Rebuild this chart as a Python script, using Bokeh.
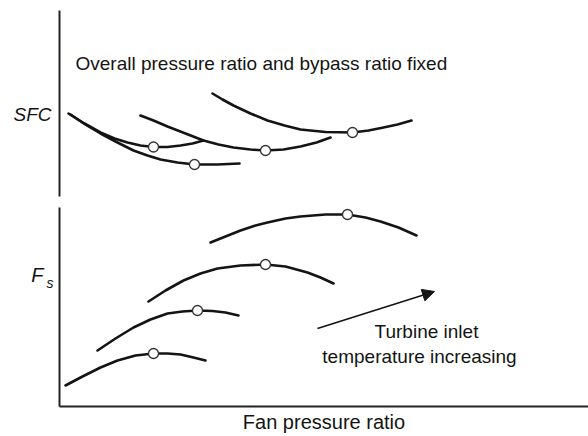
from bokeh.plotting import figure
from bokeh.models import Range1d, Label, Arrow, NormalHead, FixedTicker, LinearAxis
from bokeh.layouts import column
from bokeh.embed import file_html
from bokeh.resources import INLINE

# ---- data (arbitrary units; x = fan pressure ratio) ----
# SFC curves, one per turbine inlet temperature (T1 lowest ... T4 highest)
sfc1_x = [1.0, 2.6, 4.2, 5.6, 6.9, 8.2, 9.5, 10.9, 12.2, 13.4, 14.5]
sfc1_y = [8.3, 7.3, 6.4, 5.8, 5.4, 5.1, 4.95, 4.95, 5.1, 5.3, 5.6]
sfc2_x = [1.2, 2.6, 4.2, 5.9, 7.5, 8.9, 10.2, 11.9, 13.6, 15.9, 18.1]
sfc2_y = [8.2, 7.25, 6.3, 5.4, 4.6, 4.1, 3.7, 3.4, 3.2, 3.2, 3.3]
sfc3_x = [8.2, 9.5, 10.9, 12.7, 14.5, 16.0, 17.5, 19.2, 20.7, 22.5, 24.2, 25.8, 27.2]
sfc3_y = [8.1, 7.6, 7.0, 6.3, 5.6, 5.2, 4.9, 4.7, 4.6, 4.7, 5.0, 5.4, 5.9]
sfc4_x = [15.4, 16.4, 17.5, 19.2, 20.9, 22.6, 24.2, 26.7, 29.4, 31.0, 32.5, 33.9, 35.3]
sfc4_y = [10.3, 9.7, 9.1, 8.3, 7.6, 7.1, 6.7, 6.45, 6.4, 6.6, 6.9, 7.2, 7.6]
sfc_opt_x = [9.5, 13.6, 20.7, 29.4]
sfc_opt_y = [4.95, 3.2, 4.6, 6.4]

# Specific thrust curves
fs1_x = [0.7, 2.4, 4.2, 5.9, 7.7, 9.5, 10.9, 12.2, 13.5, 14.7]
fs1_y = [2.1, 3.0, 3.9, 4.6, 5.1, 5.3, 5.3, 5.2, 4.9, 4.6]
fs2_x = [3.9, 5.7, 7.5, 9.2, 10.9, 12.4, 13.9, 15.4, 16.7, 18.0]
fs2_y = [5.6, 6.8, 7.9, 8.7, 9.3, 9.5, 9.6, 9.55, 9.4, 9.1]
fs3_x = [9.0, 10.7, 12.5, 14.2, 15.9, 18.2, 20.7, 22.7, 24.9, 26.2, 27.5]
fs3_y = [10.5, 11.6, 12.6, 13.3, 13.8, 14.1, 14.2, 14.0, 13.4, 12.9, 12.3]
fs4_x = [15.2, 16.7, 18.2, 19.7, 20.9, 22.7, 24.2, 26.7, 28.9, 30.7, 32.2, 34.0, 35.8]
fs4_y = [16.4, 17.0, 17.6, 18.1, 18.4, 18.8, 19.0, 19.2, 19.2, 18.9, 18.5, 17.9, 17.1]
fs_opt_x = [9.5, 13.9, 20.7, 28.9]
fs_opt_y = [5.3, 9.6, 14.2, 19.2]

title_text = "Overall pressure ratio and bypass ratio fixed"
xlabel_text = "Fan pressure ratio"
sfc_label = "SFC"
fs_label = ["F", "s"]
arrow_text = ["Turbine inlet", "temperature increasing"]

FONT = "Liberation Sans"
INK = "#141414"
LW = 2.6


def base_fig(height, top, bottom):
    p = figure(width=588, height=height, output_backend="svg", toolbar_location=None,
               x_range=Range1d(0.1, 53.0), min_border_left=59, min_border_right=0,
               min_border_top=top, min_border_bottom=bottom)
    p.outline_line_color = None
    p.xgrid.visible = False
    p.ygrid.visible = False
    p.background_fill_color = "white"
    p.border_fill_color = "white"
    return p


def style_axis(ax, ticks=(), labels=None, size="19px", standoff=0, line=True):
    ax.ticker = FixedTicker(ticks=list(ticks))
    if labels:
        ax.major_label_overrides = labels
    ax.major_tick_out = 0
    ax.major_tick_in = 0
    ax.minor_tick_out = 0
    ax.minor_tick_in = 0
    ax.major_label_standoff = standoff
    ax.major_label_text_font = FONT
    ax.major_label_text_font_size = size
    ax.major_label_text_font_style = "italic"
    ax.major_label_text_color = INK
    ax.axis_line_width = 2
    ax.axis_line_color = "#222222" if line else None


# ---- top panel: SFC ----
top = base_fig(202, 10, 6)
top.y_range = Range1d(0, 18.6)
top.xaxis.visible = False
style_axis(top.yaxis[0], ticks=[8.2], labels={8.2: sfc_label}, size="19px", standoff=8)

for xs, ys in [(sfc1_x, sfc1_y), (sfc2_x, sfc2_y), (sfc3_x, sfc3_y), (sfc4_x, sfc4_y)]:
    top.line(xs, ys, line_width=LW, line_color=INK, line_join="round", line_cap="round")
top.scatter(sfc_opt_x, sfc_opt_y, marker="circle", size=10, fill_color="white",
            line_color="#333333", line_width=1.3)

top.add_layout(Label(x=1.7, y=13.3, text=title_text, text_font=FONT, text_font_size="19px",
                     text_color=INK, text_baseline="middle", text_align="left"))

# ---- bottom panel: specific thrust ----
bot = base_fig(234, 5, 30)
bot.y_range = Range1d(0, 19.9)
style_axis(bot.yaxis[0], ticks=[12.4], labels={12.4: fs_label[1]}, size="14px", standoff=6)
outer = LinearAxis()
style_axis(outer, ticks=[13.2], labels={13.2: fs_label[0]}, size="20px", standoff=0, line=False)
bot.add_layout(outer, "left")
style_axis(bot.xaxis[0])
bot.xaxis.axis_label = xlabel_text
bot.xaxis.axis_label_text_font = FONT
bot.xaxis.axis_label_text_font_size = "20px"
bot.xaxis.axis_label_text_font_style = "normal"
bot.xaxis.axis_label_text_color = INK
bot.xaxis.axis_label_standoff = 4

for xs, ys in [(fs1_x, fs1_y), (fs2_x, fs2_y), (fs3_x, fs3_y), (fs4_x, fs4_y)]:
    bot.line(xs, ys, line_width=LW, line_color=INK, line_join="round", line_cap="round")
bot.scatter(fs_opt_x, fs_opt_y, marker="circle", size=10, fill_color="white",
            line_color="#333333", line_width=1.3)

bot.add_layout(Arrow(x_start=25.9, y_start=7.8, x_end=37.6, y_end=11.5, line_width=1.6,
                     line_color=INK,
                     end=NormalHead(size=12, fill_color=INK, line_color=INK, line_width=1)))
bot.add_layout(Label(x=36.8, y=7.55, text=arrow_text[0], text_font=FONT, text_font_size="19px",
                     text_color=INK, text_baseline="middle", text_align="center"))
bot.add_layout(Label(x=36.1, y=5.0, text=arrow_text[1], text_font=FONT, text_font_size="19px",
                     text_color=INK, text_baseline="middle", text_align="center"))

layout = column(top, bot, spacing=0)
open("out.html", "w").write(file_html(layout, INLINE))
